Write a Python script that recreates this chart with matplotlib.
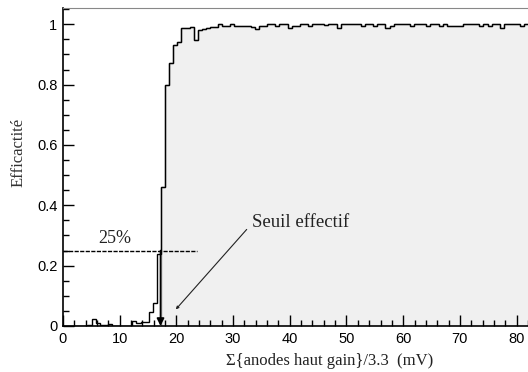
import numpy as np
import matplotlib.pyplot as plt
from matplotlib.ticker import MultipleLocator

# Histogram bins (mV), bin width
bin_width = 0.72
# Efficiency per bin, starting at 0 mV
efficiency = [
    0.0, 0.0, 0.0, 0.0, 0.0, 0.0, 0.004, 0.022, 0.010, 0.004,
    0.002, 0.008, 0.0, 0.0, 0.0, 0.0, 0.0, 0.016, 0.010, 0.012,
    0.012, 0.045, 0.075, 0.24, 0.46, 0.80, 0.87, 0.93, 0.94, 0.987,
    0.987, 0.992, 0.948, 0.981, 0.984, 0.987, 0.990, 0.992, 1.0, 0.995,
    0.995, 1.0, 0.995, 0.995, 0.995, 0.994, 0.990, 0.984, 0.994, 0.994,
    1.0, 1.0, 0.995, 1.0, 1.0, 0.987, 0.995, 0.995, 1.0, 1.0,
    0.995, 1.0, 1.0, 1.0, 0.996, 1.0, 1.0, 0.986, 1.0, 1.0,
    1.0, 1.0, 1.0, 0.994, 1.0, 1.0, 0.994, 1.0, 1.0, 0.986,
    0.994, 1.0, 1.0, 1.0, 1.0, 0.994, 1.0, 1.0, 1.0, 0.994,
    1.0, 1.0, 0.994, 1.0, 0.994, 0.994, 0.994, 0.994, 1.0, 1.0,
    1.0, 1.0, 0.994, 1.0, 0.994, 1.0, 1.0, 0.986, 1.0, 1.0,
    1.0, 1.0, 0.994, 1.0, 1.0,
]
first_filled_bin = 24
threshold_level = 0.25
threshold_x = 17.2
threshold_line_end = 23.6

eff = np.array(efficiency)
edges = np.arange(len(eff) + 1) * bin_width

serif = ["Liberation Serif", "DejaVu Serif"]

fig = plt.figure(figsize=(5.28, 3.72), dpi=100)
ax_width = 0.8913
ax = fig.add_axes([0.1193, 0.1237, ax_width, 0.8557])
ax_px = ax_width * 528  # axes width in pixels

# Filled part of the curve (above threshold)
ax.stairs(eff[first_filled_bin:], edges[first_filled_bin:], fill=True,
          color="#f0f0f0", zorder=1)
ax.stairs(eff[first_filled_bin:], edges[first_filled_bin:], color="#888888",
          lw=1.0, baseline=0, zorder=1.5)
# Outline
ax.stairs(eff, edges, color="black", lw=1.0, baseline=None, zorder=2)

# 25% line + arrow
ax.plot([0, threshold_line_end], [threshold_level, threshold_level],
        color="black", lw=1.0, ls=(0, (3, 1.0)), zorder=3)
ax.text(9.1, 0.274, "25%", family=serif, fontsize=13, ha="center",
        va="baseline", color="#222222")
ax.annotate("", xy=(threshold_x, 0.0), xytext=(threshold_x, threshold_level),
            arrowprops=dict(arrowstyle="-|>", color="black", lw=1.2,
                            mutation_scale=11, shrinkA=0, shrinkB=0), zorder=4)

# Seuil effectif annotation
ax.annotate("", xy=(19.9, 0.055), xytext=(32.4, 0.32),
            arrowprops=dict(arrowstyle="-|>", color="#222222", lw=0.8,
                            mutation_scale=4, shrinkA=0, shrinkB=0))
ax.text(33.3, 0.329, "Seuil effectif", family=serif, fontsize=13.5,
        va="baseline", ha="left", color="#222222")

ax.set_xlim(0, 83)
ax.set_ylim(0, 1.055)
ax.set_xticks(np.arange(0, 81, 10))
ax.set_yticks([0, 0.2, 0.4, 0.6, 0.8, 1.0])
ax.set_yticklabels(["0", "0.2", "0.4", "0.6", "0.8", "1"])
ax.xaxis.set_minor_locator(MultipleLocator(2))
ax.yaxis.set_minor_locator(MultipleLocator(0.05))
ax.tick_params(which="both", direction="in", top=False, right=False,
               labelsize=10.5, width=1)
ax.tick_params(which="major", length=8, pad=4)
ax.tick_params(which="minor", length=4)
for lab in ax.get_xticklabels() + ax.get_yticklabels():
    lab.set_family("Liberation Sans")

for side in ["left", "bottom"]:
    ax.spines[side].set_color("black")
    ax.spines[side].set_linewidth(1.2)
ax.spines["top"].set_color("#888888")

ax.set_ylabel("Efficactité", family=serif, fontsize=12, color="#333333")
ax.yaxis.set_label_coords(-(63 - 27) / ax_px, 0.545)
ax.set_xlabel("Σ{anodes haut gain}/3.3  (mV)", family=serif, fontsize=12,
              color="#222222")
ax.xaxis.set_label_coords((330 - 63) / ax_px, -0.085)

fig.savefig("out.png", dpi=100)
plt.close(fig)
